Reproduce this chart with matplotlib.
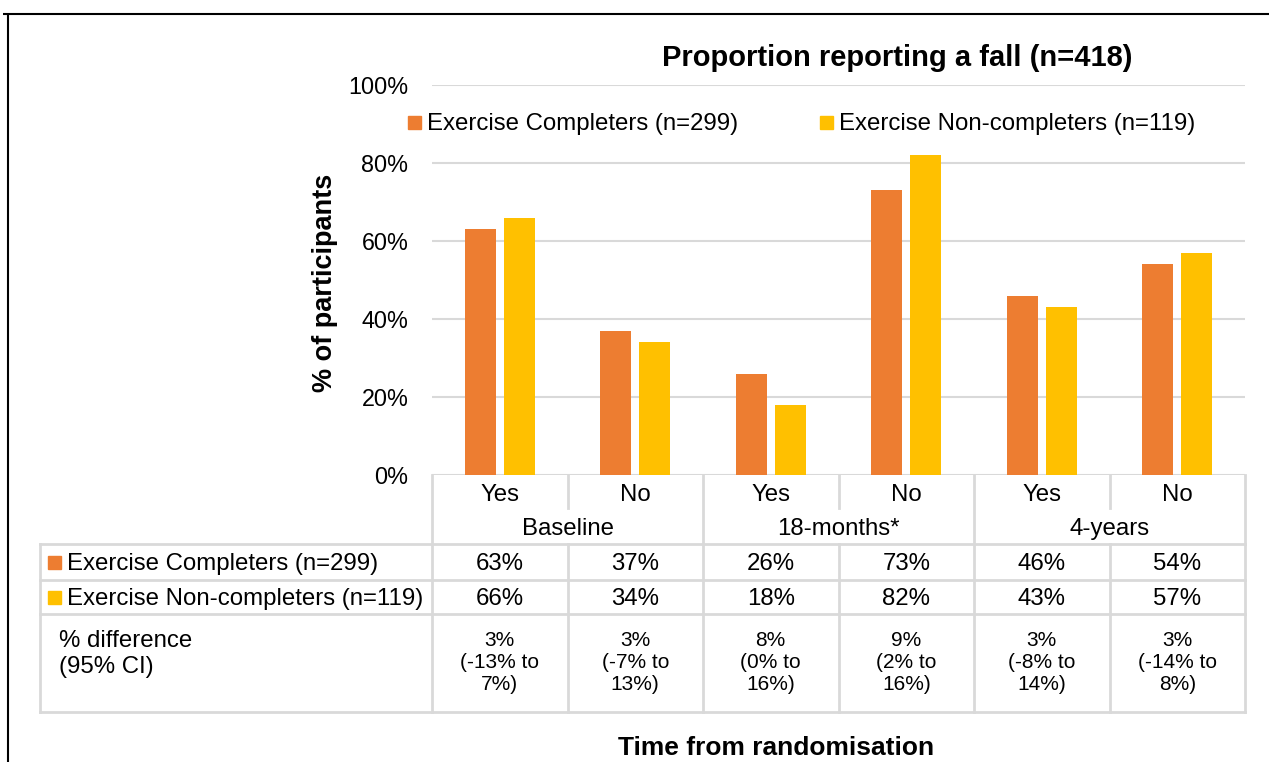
import matplotlib
matplotlib.use('Agg')
import matplotlib.pyplot as plt
from matplotlib.patches import Rectangle
from matplotlib.transforms import blended_transform_factory
import numpy as np

plt.rcParams['font.family'] = ['Liberation Sans', 'DejaVu Sans']

categories = ['Yes', 'No', 'Yes', 'No', 'Yes', 'No']
groups = ['Baseline', '18-months*', '4-years']
series_names = ['Exercise Completers (n=299)', 'Exercise Non-completers (n=119)']
completers = [63, 37, 26, 73, 46, 54]
non_completers = [66, 34, 18, 82, 43, 57]
differences = ['3%\n(-13% to\n7%)', '3%\n(-7% to\n13%)', '8%\n(0% to\n16%)',
               '9%\n(2% to\n16%)', '3%\n(-8% to\n14%)', '3%\n(-14% to\n8%)']
diff_label = '% difference\n(95% CI)'
yticks = [0, 20, 40, 60, 80, 100]
title = 'Proportion reporting a fall (n=418)'
ylabel = '% of participants'
xlabel = 'Time from randomisation'
colors = ['#ED7D31', '#FFC000']
grid_c = '#d9d9d9'

W, H = 1269, 762
fig = plt.figure(figsize=(W / 100, H / 100), dpi=100)
ov = fig.add_axes([0, 0, 1, 1], zorder=0)
ov.set_xlim(0, W)
ov.set_ylim(H, 0)
ov.axis('off')

L, R, T, B = 432, 1245, 85, 475
ax = fig.add_axes([L / W, 1 - B / H, (R - L) / W, (B - T) / H], zorder=1)
ax.patch.set_alpha(0)
x = np.arange(len(categories))
off, bw = 0.144, 0.229
ax.bar(x - off, completers, bw, color=colors[0], zorder=3)
ax.bar(x + off, non_completers, bw, color=colors[1], zorder=3)
ax.set_xlim(-0.5, len(categories) - 0.5)
ax.set_ylim(0, 100)
ax.set_yticks(yticks)
ax.set_yticklabels([f'{v}%' for v in yticks])
ax.yaxis.grid(True, color=grid_c, lw=1.5)
ax.set_axisbelow(True)
for s in ax.spines.values():
    s.set_visible(False)
ax.tick_params(axis='y', length=0, pad=17, labelsize=16.8)
ax.set_xticks([])

bt = blended_transform_factory(ax.transData, ov.transData)

# Outer border
ov.plot([3, W], [14, 14], color='black', lw=1.5, solid_capstyle='butt')
ov.plot([8, 8], [14, H], color='black', lw=1.5, solid_capstyle='butt')

# Table lines
lw = 2
y_cat, y_grp, y_r1, y_r2, y_r3, y_end = 475, 508, 544, 580, 614, 712
for yy in [y_r1, y_r2, y_r3, y_end]:
    ov.plot([40, R], [yy, yy], color=grid_c, lw=lw)
ov.plot([40, 40], [y_r1, y_end], color=grid_c, lw=lw)
ov.plot([L, L], [y_cat, y_end], color=grid_c, lw=lw)
ov.plot([R, R], [y_cat, y_end], color=grid_c, lw=lw)
n = len(categories)
for i in range(1, n):
    xb = i - 0.5
    if i % 2 == 0:
        ov.plot([xb, xb], [y_cat, y_end], color=grid_c, lw=lw, transform=bt)
    else:
        ov.plot([xb, xb], [y_cat, y_grp], color=grid_c, lw=lw, transform=bt)
        ov.plot([xb, xb], [y_r1, y_end], color=grid_c, lw=lw, transform=bt)

fs = 17.3
for i, c in enumerate(categories):
    ov.text(i, 495, c, transform=bt, ha='center', va='center', fontsize=fs)
    ov.text(i, 564, f'{completers[i]}%', transform=bt, ha='center', va='center', fontsize=fs)
    ov.text(i, 599, f'{non_completers[i]}%', transform=bt, ha='center', va='center', fontsize=fs)
    ov.text(i, 662, differences[i], transform=bt, ha='center', va='center',
            fontsize=15, linespacing=1.2)
for g, name in enumerate(groups):
    ov.text(2 * g + 0.5, 529, name, transform=bt, ha='center', va='center', fontsize=fs)

# Row labels with markers
for yy, name, col in [(562, series_names[0], colors[0]), (597, series_names[1], colors[1])]:
    ov.add_patch(Rectangle((48, yy - 6.5), 13, 13, color=col))
    ov.text(67, yy + 2, name, ha='left', va='center', fontsize=fs)
ov.text(59, 654, diff_label, ha='left', va='center', fontsize=17.3, linespacing=1.2)

# Legend
for xm, name, col in [(408, series_names[0], colors[0]), (820, series_names[1], colors[1])]:
    ov.add_patch(Rectangle((xm, 122 - 6.5), 13, 13, color=col))
    ov.text(xm + 19, 124, name, ha='left', va='center', fontsize=fs)

# Titles
ov.text(897, 58, title, ha='center', va='center', fontsize=21, weight='bold')
ov.text(325, 283, ylabel, ha='center', va='center', fontsize=19.5, weight='bold', rotation=90)
ov.text(776, 748, xlabel, ha='center', va='center', fontsize=19, weight='bold')

fig.savefig('out.png', dpi=100)
